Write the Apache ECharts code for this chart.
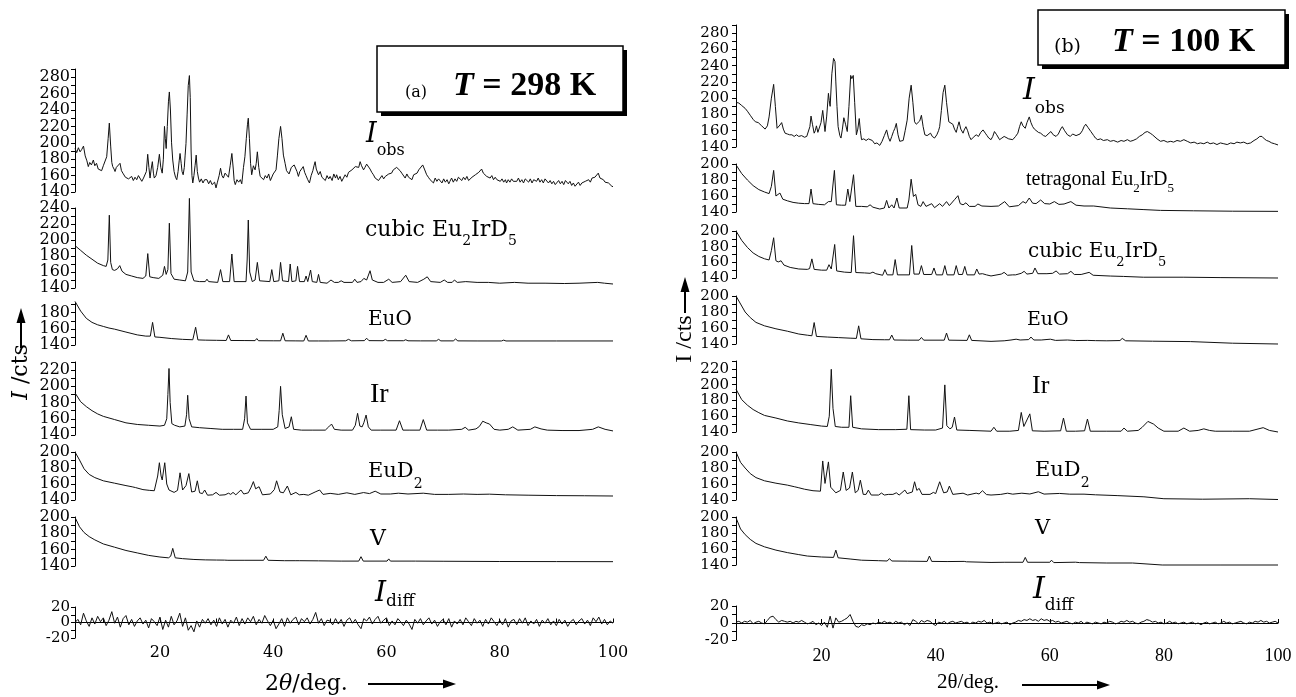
<!DOCTYPE html>
<html>
<head>
<meta charset="utf-8">
<script src="https://cdn.jsdelivr.net/npm/echarts@6/dist/echarts.min.js"></script>
<style>html,body{margin:0;background:#fff}#chart{width:1296px;height:697px}</style>
</head>
<body>
<div id="chart"></div>
<script>
// tick labels
const xTickLabels = [20, 40, 60, 80, 100];
const xMinorTicks = [10, 20, 30, 40, 50, 60, 70, 80, 90, 100];
const ticksObs = [140, 160, 180, 200, 220, 240, 260, 280];
const ticks240 = [140, 160, 180, 200, 220, 240];
const ticks220 = [140, 160, 180, 200, 220];
const ticks200 = [140, 160, 180, 200];
const ticks180 = [140, 160, 180];
const ticksDiff = [-20, 0, 20];

// (a) T = 298 K, [2theta, counts]
const aObs = [[5,193],[5.3,188],[5.6,194],[5.9,189],[6.2,192],[6.5,196],[6.8,184],[7.1,178],[7.35,171],[7.6,176],[7.9,173],[8.24,179],[8.5,172],[8.8,175],[9.1,168],[9.42,169],[9.7,166],[10,172],[10.3,171],[10.6,183],[10.85,205],[11.06,224],[11.3,196],[11.5,176],[11.66,171],[11.9,168],[12.07,165],[12.3,170],[12.6,168],[12.95,175],[13.2,166],[13.45,163],[13.66,161],[13.9,158],[14.2,160],[14.45,156],[14.7,157],[15,159],[15.3,154],[15.6,158],[15.9,155],[16.2,160],[16.5,159],[16.8,153],[17.1,157],[17.4,155],[17.6,165],[17.84,186],[18.05,170],[18.25,157],[18.45,168],[18.66,177],[18.85,163],[19,157],[19.3,160],[19.6,170],[19.9,186],[20.15,170],[20.4,163],[20.6,180],[20.8,220],[20.95,205],[21.1,193],[21.3,220],[21.5,250],[21.66,262],[21.85,240],[22.05,200],[22.26,179],[22.5,165],[22.75,158],[22.97,155],[23.2,165],[23.4,178],[23.55,187],[23.75,175],[23.9,165],[24.1,161],[24.3,170],[24.45,185],[24.6,199],[24.8,235],[25,270],[25.2,282],[25.35,255],[25.5,190],[25.65,160],[25.8,151],[26,160],[26.2,172],[26.4,185],[26.6,165],[26.8,157],[27,152],[27.3,156],[27.6,151],[27.9,155],[28.3,155],[28.6,150],[28.9,154],[29.2,149],[29.4,150],[29.65,152],[29.9,145],[30.15,152],[30.45,160],[30.7,169],[30.95,160],[31.2,157],[31.5,163],[31.8,163],[32.1,158],[32.4,172],[32.7,187],[32.95,168],[33.1,154],[33.3,149],[33.6,155],[33.9,152],[34.2,155],[34.45,150],[34.75,170],[35,183],[35.25,205],[35.45,222],[35.6,230],[35.8,205],[36,175],[36.2,161],[36.5,172],[36.8,167],[37,175],[37.2,189],[37.45,170],[37.7,159],[38,161],[38.3,155],[38.6,160],[38.9,157],[39.2,162],[39.5,154],[39.75,155],[40,162],[40.3,160],[40.5,167],[40.75,185],[41,205],[41.3,220],[41.55,205],[41.8,185],[42.1,175],[42.35,166],[42.6,168],[42.8,162],[43,161],[43.2,170],[43.45,168],[43.7,173],[43.9,175],[44.2,165],[44.45,159],[44.7,165],[45,168],[45.3,171],[45.55,164],[45.8,160],[46.1,155],[46.4,151],[46.7,160],[47,166],[47.2,172],[47.4,177],[47.6,168],[47.8,170],[48,161],[48.3,165],[48.6,158],[48.9,159],[49.2,154],[49.5,160],[49.8,156],[50.05,159],[50.4,154],[50.7,162],[51,157],[51.2,161],[51.5,155],[51.8,159],[52.1,153],[52.4,157],[52.7,161],[53,158],[53.3,164],[53.6,163],[53.9,167],[54.2,165],[54.5,171],[54.8,173],[55.1,170],[55.35,177],[55.6,172],[55.95,167],[56.2,170],[56.5,174],[56.8,175],[57.1,168],[57.4,164],[57.7,161],[58,157],[58.3,159],[58.6,154],[58.9,155],[59.2,160],[59.5,156],[59.8,159],[60.1,157],[60.4,162],[60.7,160],[60.9,163],[61.2,167],[61.5,165],[61.8,170],[62.1,171],[62.4,166],[62.7,163],[63,161],[63.3,157],[63.6,162],[63.9,158],[64.2,159],[64.5,155],[64.8,161],[65.1,160],[65.4,163],[65.7,167],[66,169],[66.4,173],[66.7,168],[67.1,161],[67.4,158],[67.7,155],[68,156],[68.3,151],[68.6,157],[68.9,153],[69.2,156],[69.5,155],[69.8,151],[70.1,156],[70.4,152],[70.7,155],[71,150],[71.2,153],[71.5,157],[71.8,152],[72.1,156],[72.4,153],[72.7,158],[73,157],[73.3,154],[73.6,158],[73.9,155],[74.2,159],[74.5,154],[74.8,155],[75.1,158],[75.4,157],[75.7,161],[76,161],[76.3,164],[76.8,168],[77.1,163],[77.4,165],[77.7,159],[78,161],[78.3,157],[78.6,160],[78.9,155],[79.2,158],[79.5,155],[79.8,157],[80.1,153],[80.4,156],[80.7,152],[81,155],[81.2,151],[81.5,155],[81.8,152],[82.1,156],[82.4,153],[82.7,155],[83,153],[83.3,157],[83.6,152],[83.9,155],[84.2,151],[84.5,156],[84.8,155],[85.1,152],[85.4,156],[85.7,151],[86,155],[86.5,153],[86.8,157],[87.1,152],[87.4,155],[87.7,151],[88,156],[88.3,155],[88.6,151],[88.9,154],[89.2,150],[89.5,153],[89.8,149],[90.1,151],[90.4,154],[90.7,150],[91,153],[91.3,149],[91.6,154],[91.8,153],[92.1,150],[92.4,153],[92.7,148],[93,151],[93.3,147],[93.6,149],[93.9,152],[94.2,148],[94.5,151],[94.8,149],[95.1,153],[95.4,151],[95.7,155],[96,152],[96.3,157],[96.5,155],[96.8,158],[97.1,156],[97.4,163],[97.7,157],[98,159],[98.3,155],[98.6,152],[98.9,154],[99.2,151],[99.5,149],[99.8,147],[100,146.5]];
const aCubic = [[5,193],[6,187],[7,181],[8,176],[9,171],[10,168],[10.5,167],[10.8,175],[11.06,231],[11.3,172],[11.6,163],[12,162],[12.5,164],[12.9,168],[13.3,161],[14,157],[15,155],[16,153],[17,152],[17.5,155],[17.85,183],[18.2,154],[18.8,153],[19.8,152],[20.5,156],[20.8,167],[21.1,157],[21.4,163],[21.66,221],[21.95,158],[22.5,151],[23.5,150],[24.5,149],[24.9,160],[25.2,252],[25.5,160],[26,149],[27,148],[28,148],[28.3,151],[28.6,148],[30.2,147],[30.7,163],[31.1,148],[32.3,148],[32.7,182.5],[33.1,148],[35.2,148],[35.4,175],[35.6,225],[35.85,160],[36.3,148],[36.8,150],[37.2,172],[37.6,149],[39.4,148],[39.75,163],[40.1,148],[41,149],[41.3,172],[41.65,149],[42.7,148],[43,170],[43.3,148],[44,149],[44.3,167],[44.65,148],[45.5,148],[45.8,155],[46.1,148],[46.4,150],[46.6,162.5],[46.9,148],[47.7,147],[48,157],[48.3,147],[49.5,146],[50.2,150],[50.8,147],[51.5,147],[52,149],[52.5,147],[54,147],[54.4,151],[54.8,147],[55.5,148],[56,152],[56.5,150],[57.1,161.6],[57.5,150],[58.5,147],[59.5,147],[60.4,151],[61,147],[62.5,148],[63.4,156],[64,148],[65.5,147],[66.6,151],[67.2,154],[67.8,148],[69.5,147],[70.2,150],[70.8,147],[71.6,147],[72,150],[72.5,147],[74,148],[76,147],[78,147],[80,146],[82.6,147],[85,146],[88,146],[91.4,145.6],[94,146],[97.3,147],[98.5,146],[100,145]];
const aEuO = [[5,194],[6,182],[7,173],[8,168],[9,165],[10,163],[11,161],[12,159.6],[14,156],[16,152.5],[17.5,151],[18.3,151],[18.7,168],[19.1,150],[20,149.5],[22,148],[24,147],[25.8,146.5],[26.3,162],[26.7,146.3],[28,146],[30,145.8],[31.7,145.6],[32.1,152.5],[32.5,145.6],[35,145.5],[36.8,145.4],[37.1,148],[37.4,145.3],[40,145.2],[41.3,145.2],[41.7,154.6],[42.1,145.2],[44,145.1],[45.4,145],[45.8,152],[46.2,145],[48,145],[50,145],[52.8,145.2],[53.3,147],[53.8,145.2],[56.1,145.4],[56.5,148.4],[56.9,145.4],[59.4,145.3],[59.8,147],[60.2,145.3],[63,145.3],[63.4,146.5],[63.8,145.2],[66,145.1],[68.8,145.1],[69.2,147],[69.6,145.1],[71.8,145.1],[72.2,147.4],[72.6,145.1],[76,145],[80.3,145],[80.7,146],[81.1,145],[90,145],[100,145]];
const aIr = [[5,192],[6,181],[7,175],[8,170],[9,166],[10,163],[12,159],[14,155],[16,153],[18,152],[20,151],[20.8,152],[21.2,160],[21.4,190],[21.6,222],[21.8,180],[22.1,154],[22.6,152],[23.5,150],[24.4,151],[24.7,165],[24.9,189],[25.15,160],[25.6,150],[27,149],[29,148],[31,147],[33,147],[34.6,147],[34.95,160],[35.2,188],[35.45,155],[36,147],[38,147],[40,147],[40.8,150],[41.05,170],[41.3,200],[41.6,165],[42.1,148],[42.8,150],[43.2,162.5],[43.6,147],[45,146],[47,146],[49.2,146],[49.8,150],[50.3,153.5],[50.8,147],[52,146],[54,146],[54.5,152],[54.9,166.7],[55.3,151],[55.7,150],[56,155],[56.4,164.6],[56.8,150],[57.3,146],[59,146],[61.7,146],[62.3,157.6],[62.9,146],[64,146],[65.9,146],[66.5,159],[67.1,146],[69,146],[71,146],[73.3,147],[73.9,149.5],[74.5,146],[75.8,147.5],[76.4,150.5],[77,157],[77.6,155],[78.2,153.5],[79,147],[80,146],[81.5,147],[82.3,150],[83.2,146],[85.4,147],[86.2,150],[87.3,147.5],[88.4,146],[91,145.5],[94,145.5],[96.4,147],[97.4,150],[98.6,147],[100,145]];
const aEuD2 = [[5,200],[5.8,190],[6.6,179],[7.5,172],[8.5,168],[10,164],[12,161],[14,158],[15.1,156.5],[15.4,158],[15.7,155.5],[17,153],[18.2,152],[19,151.6],[19.6,170],[19.9,186.6],[20.2,170],[20.4,165],[20.6,175],[20.85,186.6],[21.2,160],[21.6,152.5],[22.5,149.5],[23.1,152],[23.55,174],[24,152.5],[24.6,158],[25.1,173],[25.6,150],[26.2,151],[26.6,164],[27,149],[27.5,148],[27.9,152.5],[28.4,146],[29.3,146.5],[29.9,149.5],[30.5,146],[31.5,146.5],[32.1,148.5],[32.5,147],[32.9,149.5],[33.4,146.5],[34.3,152.5],[34.8,147.5],[35.6,149],[36.1,156],[36.5,163],[36.9,154],[37.2,155],[37.5,156.6],[38.1,146.5],[39.5,147.5],[40.2,153],[40.6,164],[41.2,150],[41.8,149],[42.5,157.5],[43.1,146.5],[44,149.5],[44.6,146.5],[45.4,147],[46.2,146],[47.4,150],[48.2,152.5],[48.8,147],[50.05,148.3],[51.5,147],[53,149],[54.4,147],[55.95,149.3],[57,148],[58,151],[59,147.5],[60.7,147.5],[62.1,148.5],[63.8,147.5],[66.5,148.5],[68.5,147],[71,147],[73.6,147.5],[76,147],[78.2,147.3],[81,146.5],[85,146],[90,145.5],[95,145.3],[100,145]];
const aV = [[5,199.6],[5.8,188],[6.6,181],[7.5,176],[8.5,172],[10,167],[12,163],[14,159],[16,156],[18,153],[20,151],[21.5,150],[21.9,152],[22.26,161.6],[22.7,150],[24,149],[26,148],[28,147.5],[30,147.3],[31.4,147.2],[31.7,149.4],[32,147],[35,147],[38.3,147],[38.7,152],[39.1,147],[42,146.5],[44,146.5],[44.3,148],[44.6,146.5],[48,146.3],[52,146],[55.1,146],[55.5,151.4],[55.9,146],[60.1,146],[60.4,148.7],[60.7,146],[64.5,146],[64.8,147.5],[65.1,146],[70,145.8],[80,145.5],[90,145.4],[100,145.3]];
const aDiff = [[5,0],[5.5,4],[6,-3],[6.5,12],[7,2],[7.5,-5],[8,6],[8.5,-2],[9,8],[9.5,1],[10,6],[10.5,-4],[11,3],[11.5,14],[12,-1],[12.5,7],[13,-6],[13.5,5],[14,9],[14.5,-3],[15,4],[15.5,-5],[16,2],[16.5,6],[17,-2],[17.5,3],[18,-7],[18.5,5],[19,1],[19.5,-4],[20,7],[20.5,-9],[21,3],[21.5,-6],[22,8],[22.5,-3],[23,2],[23.5,12],[24,-5],[24.5,6],[25,-10],[25.5,-4],[26,-12],[26.5,2],[27,-6],[27.5,4],[28,-1],[28.5,5],[29,-3],[29.5,3],[30,-5],[30.5,6],[31,-2],[31.5,4],[32,-6],[32.5,3],[33,-1],[33.5,7],[34,-4],[34.5,5],[35,-2],[35.5,6],[36,1],[36.5,8],[37,-3],[37.5,4],[38,-1],[38.5,9],[39,2],[39.5,-4],[40,3],[40.5,-8],[41,-2],[41.5,5],[42,-5],[42.5,6],[43,-1],[43.5,4],[44,7],[44.5,-3],[45,5],[45.5,1],[46,6],[46.5,-2],[47,4],[47.5,13],[48,-1],[48.5,5],[49,-4],[49.5,3],[50,2],[50.5,-3],[51,5],[51.5,-2],[52,4],[52.5,-5],[53,3],[53.5,6],[54,-1],[54.5,4],[55,-3],[55.5,-8],[56,5],[56.5,2],[57,7],[57.5,-2],[58,4],[58.5,8],[59,-1],[59.5,3],[60,6],[60.5,-4],[61,2],[61.5,-3],[62,5],[62.5,1],[63,-4],[63.5,3],[64,-2],[64.5,-9],[65,4],[65.5,-1],[66,5],[66.5,-3],[67,2],[67.5,6],[68,-2],[68.5,3],[69,-5],[69.5,1],[70,4],[70.5,-3],[71,5],[71.5,-6],[72,2],[72.5,-2],[73,4],[73.5,-3],[74,6],[74.5,1],[75,-4],[75.5,5],[76,-1],[76.5,3],[77,-5],[77.5,4],[78,-2],[78.5,6],[79,1],[79.5,-4],[80,3],[80.5,-3],[81,5],[81.5,-6],[82,2],[82.5,4],[83,-3],[83.5,5],[84,-1],[84.5,6],[85,-4],[85.5,2],[86,-2],[86.5,4],[87,-5],[87.5,3],[88,-1],[88.5,5],[89,-3],[89.5,2],[90,-4],[90.5,4],[91,-2],[91.5,3],[92,-5],[92.5,1],[93,4],[93.5,-3],[94,2],[94.5,5],[95,-2],[95.5,3],[96,-4],[96.5,6],[97,1],[97.5,7],[98,-2],[98.5,4],[99,-3],[99.5,2],[100,-1]];

// (b) T = 100 K
const bObs = [[5,195],[5.5,194],[6,191],[6.6,187.5],[7,184],[7.5,179],[8,174],[8.4,171],[8.9,170],[9.5,166],[10.1,162],[10.5,166],[10.8,177],[11.2,200],[11.6,217],[11.9,190],[12.2,163],[12.5,165],[12.7,167],[13,170],[13.3,162],[13.6,157],[14,156],[14.4,155],[14.8,155],[15.2,153],[15.6,155],[16,153],[16.5,154],[17,152],[17.4,153],[17.7,152],[17.95,165],[18.15,178],[18.4,168],[18.7,157],[18.9,160],[19.1,166],[19.35,158],[19.55,156],[19.9,170],[20.2,185],[20.4,172],[20.6,159],[20.9,178],[21.2,206],[21.35,197],[21.5,190],[21.8,230],[22.1,249],[22.35,245],[22.5,220],[22.7,190],[22.9,165],[23.2,154],[23.4,151],[23.65,162],[23.9,176],[24.2,168],[24.5,159],[24.8,190],[25.1,228],[25.3,224],[25.55,228],[25.8,195],[26.1,155],[26.35,162],[26.6,175],[26.8,160],[27,149],[27.4,150],[27.8,148],[28.2,150],[28.5,152],[28.9,148],[29.3,144],[29.7,145],[30.2,142],[30.6,147],[31,154],[31.4,161],[31.7,152],[32,147],[32.3,153],[32.6,159],[32.85,163],[33.1,169],[33.4,155],[33.7,147],[34,149],[34.3,148],[34.65,160],[35,173],[35.35,200],[35.7,216],[36,195],[36.3,171],[36.6,168],[36.9,166],[37.2,172],[37.5,179],[37.8,165],[38.1,155],[38.5,154],[38.8,155],[39.1,157],[39.4,153],[39.8,151],[40.2,155],[40.5,160],[40.7,165],[41,185],[41.3,207],[41.6,216],[41.9,195],[42.3,171],[42.6,172],[43,168],[43.3,162],[43.6,158],[43.85,165],[44.1,171],[44.4,162],[44.8,157],[45,161],[45.3,165],[45.6,160],[45.9,153],[46.2,149],[46.6,152],[47.1,155],[47.5,153],[47.9,158],[48.3,161],[48.7,157],[49,154],[49.3,151],[49.7,149],[50,153],[50.3,159],[50.7,155],[51.2,149],[51.6,151],[52,153],[52.3,153],[52.8,150],[53.1,151],[53.5,149],[54,153],[54.4,157],[54.7,165],[55,171],[55.3,166],[55.7,163],[56,170],[56.4,177],[56.7,170],[57,165],[57.3,162],[57.6,160],[58,158],[58.4,157],[58.9,154],[59.3,153],[59.7,156],[60.2,159],[60.6,155],[61.1,153],[61.5,156],[61.9,162],[62.2,165],[62.6,160],[63.1,155],[63.6,153],[64,156],[64.3,157],[64.6,154],[64.9,153],[65.3,156],[65.7,160],[66,165],[66.3,168],[66.7,164],[67.2,159],[67.7,154],[68,151],[68.4,149],[68.9,150],[69.4,148],[70.1,149],[70.6,147],[71.2,148],[71.9,146],[72.5,148],[73,147],[73.6,149],[74.1,147],[74.6,148],[75.2,150],[75.7,153],[76.2,155],[76.7,158],[77.1,159],[77.6,157],[78,155],[78.3,153],[78.8,150],[79.4,147],[80,148],[80.6,146],[81.2,147],[81.7,146],[82.3,148],[82.9,147],[83.5,149],[84.1,147],[84.7,145],[85.3,146],[85.9,144],[86.4,145],[87,144],[87.6,146],[88.1,144],[88.7,145],[89.3,143],[89.9,145],[90.5,144],[91.1,143],[91.7,145],[92.3,144],[92.8,146],[93.4,145],[94,146],[94.6,144],[95.2,145],[95.8,148],[96.3,150],[96.8,153],[97.2,153],[97.6,150],[98,148],[98.4,147],[98.9,145],[99.4,144],[100,142.5]];
const bTetra = [[5,199],[6,188],[7,180],[8,173],[9,168],[10,165],[10.8,163],[11.2,172],[11.6,192],[12,160],[12.3,157.5],[12.7,163.7],[13.2,156],[14,154],[15,152],[16,151],[17,150.5],[17.8,150.5],[18.15,168.7],[18.5,150.4],[19.5,149.5],[20.5,149],[21.2,153],[21.7,153],[22.25,192],[22.6,149],[23.5,148.5],[24.2,148.5],[24.6,168.7],[24.95,153],[25.6,186.6],[26,147],[27,147],[28,146.5],[28.5,149],[29,146],[30.2,143.7],[31,145],[31.4,154.5],[31.8,145],[32.3,149],[32.7,145],[33.2,157.5],[33.6,145],[35,145],[35.3,155],[35.7,181],[36.1,159.5],[36.5,162],[36.9,149],[37.4,147],[37.8,153],[38.3,147],[39.3,150.4],[39.8,145.4],[40.7,150.4],[41.2,147],[41.9,153],[42.4,148],[43.3,155.4],[43.9,160.4],[44.3,150.4],[44.8,149],[45.3,151.5],[45.9,147],[46.9,147],[47.4,150],[48.1,147.5],[49.7,147],[51,147.5],[52.1,153],[52.9,146.5],[54.5,148],[55.3,153],[55.8,151],[56.4,157.5],[57,151],[57.6,150.5],[58.4,155],[59.1,150.5],[60,150],[60.8,153],[61.6,149.5],[62.5,150],[63.7,153],[64.6,148.5],[66,147.5],[67.7,147.5],[70.6,145],[73.6,144],[76.5,143],[79.4,142],[85.2,141.5],[92,141],[100,140.8]];
const bCubic = [[5,200],[6,188],[7,179],[8,172],[9,167.5],[10,164.5],[10.8,163],[11.2,175],[11.6,191.4],[12,162],[12.4,160.5],[12.9,162],[13.4,156.5],[14.5,153.5],[16,151.5],[17.5,151],[17.9,152],[18.3,164.4],[18.7,151],[20,150],[20.9,150],[21.3,157],[21.7,151.5],[22,152],[22.3,182.8],[22.65,149],[24,147.5],[25.2,147],[25.6,194],[26,147],[27.5,146.5],[28.5,146],[29,147.5],[29.5,145.5],[30.7,143.5],[31.1,150.7],[31.5,144],[32.5,144],[32.9,163.5],[33.3,144],[35.4,144],[35.8,181.5],[36.2,145],[37.1,145],[37.5,155.8],[37.9,144.5],[39.3,144.5],[39.7,152.8],[40.1,144],[41.2,144],[41.6,155.8],[42,144],[43.2,144],[43.6,155.8],[44,144.5],[44.7,144.5],[45.1,154.8],[45.5,144],[46.8,144],[47.2,151.5],[47.6,145],[48.2,145.5],[48.5,146],[48.9,144],[49.7,142.6],[51.5,145],[52,147.2],[52.6,143.5],[53.5,144],[54,144],[55,146],[55.5,148.5],[56,145],[57,146],[57.4,152.8],[57.9,145.5],[59.5,145.5],[60.5,146],[61.1,149],[61.7,145],[63.1,145.5],[63.7,148.5],[64.3,144.5],[65.5,144.5],[66.9,147.2],[67.6,143.5],[70.6,142.5],[72.9,142],[76.4,141],[83.5,141],[90,140.5],[100,140]];
const bEuO = [[5,200],[5.8,190],[6.6,180],[7.5,173],[8.5,167],[10,162.7],[12,159],[14,156],[16,152.5],[17.5,151],[18.3,150.3],[18.7,166.8],[19.1,149.5],[21,148.7],[23,148],[25,147.3],[26.1,147],[26.5,162.7],[26.9,146.5],[29,145.5],[31,145.3],[31.9,145.3],[32.3,151.2],[32.7,145],[35,144.8],[37.1,144.8],[37.5,148.2],[37.9,144.8],[41.5,144.8],[41.9,153.7],[42.3,144.8],[45.5,144.5],[45.9,151.5],[46.3,144.5],[49.7,143.3],[52,144],[53.2,145],[54.1,146],[54.8,145],[56.3,145.5],[56.7,148.7],[57.2,145],[58.5,145],[60.1,146],[61,144.5],[63.1,145],[64.5,144.3],[66.6,144.5],[68,144.2],[70,144],[72.3,144.3],[72.7,147],[73.3,144],[78,143.5],[84.7,143],[92,141],[100,140]];
const bIr = [[5,194.3],[6,181],[7,174],[8,168.5],[9,164.5],[10,161],[12,157.7],[14,154],[16,151.5],[18,149.5],[20,147.5],[21,147],[21.35,160],[21.7,219.5],[22,170],[22.4,147],[23.5,146],[24.8,146],[25.1,186],[25.45,146],[27,144],[30,143],[33,143],[34.95,143.5],[35.3,186],[35.6,143],[38,142.5],[40,142.5],[41.2,145],[41.6,199.7],[41.95,148],[42.5,144],[42.9,146],[43.3,159],[43.7,142.5],[46,142],[49.7,141],[50.2,146],[50.7,141],[53,141],[54.5,142],[55,164.8],[55.45,147],[56.5,163],[56.95,141.5],[59,141],[61.9,141.5],[62.4,157.7],[62.9,141],[64.5,141],[66.1,141.5],[66.6,156.4],[67.1,141],[70,141],[72.5,141],[73,145],[73.6,141],[75.5,142],[76.2,146],[77.2,153.4],[78.2,150],[79,145],[80,141],[82.5,141],[83.5,145],[84.5,141],[86,142],[87,144],[88,142],[89,141],[92,141],[95,141],[97.4,145.5],[98.5,142],[100,140]];
const bEuD2 = [[5,200],[5.8,187],[6.6,180],[7.5,173],[8.5,168],[10,164],[12,161],[14,158.6],[15.3,156.5],[15.6,157.5],[15.9,155.5],[17,153.5],[18.5,151.6],[19.8,151],[20.2,188.8],[20.6,160.7],[21.2,187.6],[21.6,156],[22.5,149],[23.3,152],[23.8,175],[24.3,152],[24.9,155],[25.4,175],[25.9,149],[26.4,152],[26.8,164.8],[27.3,147],[27.8,147],[28.2,152.4],[28.7,146.2],[30,146.2],[30.5,148.7],[31,146.2],[31.7,147],[32,148],[32.5,147],[33.1,149],[33.6,146.2],[34.6,152.4],[35,148],[35.9,150],[36.3,162.8],[36.7,152],[37.1,154.5],[37.6,147],[39,147],[39.6,149.5],[40,148],[40.7,162.8],[41.4,149],[42,150],[42.4,157.4],[43,147],[44.8,148.5],[45.6,146.2],[47.1,148.6],[47.6,147.5],[48.2,151.6],[48.9,146.8],[49.7,146.2],[51.4,147],[52.6,148.5],[53.5,147.3],[55.1,148.5],[56.5,147.5],[58,150.3],[59,147.4],[61.7,148.2],[63.5,147.3],[66,147.3],[68,146.5],[71.8,145.5],[76.5,144],[80,141.6],[86.8,141],[95,141.6],[100,140.6]];
const bV = [[5,199],[5.8,185],[6.6,178],[7.5,172],[8.5,167],[10,162.7],[12,158.6],[14,155.5],[16,153],[17.5,151.2],[20,150],[22.1,149.5],[22.5,158.6],[22.9,149],[25,147.5],[27,146],[30,145.4],[31.5,145],[31.9,148],[32.3,145],[35,144.8],[38.5,144.5],[38.9,151.2],[39.3,144.5],[42,144.3],[45,144.5],[45.4,144],[49.7,143.2],[52,143.4],[55.3,143.4],[55.7,149.5],[56.1,143.4],[60,143.4],[60.3,146],[60.7,143],[64.5,143.5],[64.8,145.5],[65.2,143],[70,142.5],[74.5,142.5],[79.7,140],[90,140],[100,140]];
const bDiff = [[5,1],[5.5,2],[6,0],[6.5,2],[7,1],[7.5,3],[8,-1],[8.5,1],[9,2],[9.5,0],[10,-1],[10.5,3],[11,7],[11.5,8],[12,4],[12.5,1],[13,3],[13.5,2],[14,1],[14.5,2],[15,0],[15.5,2],[16,1],[16.5,3],[17,1],[17.5,-1],[18,0],[18.5,2],[19,-2],[19.5,0],[20,-3],[20.5,1],[21,-5],[21.5,8],[22,-6],[22.5,6],[23,1],[23.5,2],[24,4],[24.5,6],[25,10],[25.5,2],[26,-4],[26.5,-5],[27,-2],[27.5,-3],[28,-1],[28.5,-2],[29,0],[29.5,-1],[30,1],[30.5,0],[31,2],[31.5,0],[32,1],[32.5,-1],[33,2],[33.5,0],[34,1],[34.5,-2],[35,0],[35.5,-3],[36,4],[36.5,2],[37,-1],[37.5,3],[38,1],[38.5,3],[39,2],[39.5,-1],[40,-3],[40.5,1],[41,0],[41.5,2],[42,-1],[42.5,1],[43,2],[43.5,0],[44,1],[44.5,2],[45,0],[45.5,1],[46,-1],[46.5,1],[47,0],[47.5,2],[48,1],[48.5,3],[49,0],[49.5,1],[50,-1],[50.5,0],[51,1],[51.5,-1],[52,0],[52.5,1],[53,-2],[53.5,0],[54,1],[54.5,3],[55,2],[55.5,4],[56,3],[56.5,5],[57,3],[57.5,4],[58,2],[58.5,5],[59,3],[59.5,4],[60,2],[60.5,3],[61,1],[61.5,2],[62,0],[62.5,1],[63,2],[63.5,0],[64,-1],[64.5,1],[65,0],[65.5,2],[66,-1],[66.5,1],[67,0],[67.5,-1],[68,1],[68.5,0],[69,-1],[69.5,1],[70,0],[70.5,2],[71,1],[71.5,-1],[72,0],[72.5,2],[73,1],[73.5,3],[74,1],[74.5,2],[75,0],[75.5,-1],[76,1],[76.5,2],[77,4],[77.5,3],[78,1],[78.5,2],[79,0],[79.5,1],[80,-1],[80.5,0],[81,2],[81.5,0],[82,1],[82.5,-1],[83,0],[83.5,1],[84,-1],[84.5,0],[85,1],[85.5,-1],[86,0],[86.5,-2],[87,0],[87.5,1],[88,-1],[88.5,0],[89,1],[89.5,-1],[90,0],[90.5,2],[91,0],[91.5,1],[92,-1],[92.5,0],[93,1],[93.5,2],[94,0],[94.5,-1],[95,1],[95.5,0],[96,2],[96.5,1],[97,3],[97.5,1],[98,2],[98.5,0],[99,1],[99.5,2],[100,0]];

// layout of the stacked strips, pixels
const panelA = { left: 75, width: 538, labelSize: 16, labelMargin: 5, xFont: 'DejaVu Serif', xSize: 16 };
const panelB = { left: 736, width: 542, labelSize: 15, labelMargin: 7, xFont: 'Liberation Serif', xSize: 18 };
const rowsA = [
  { data: aObs, min: 140, max: 290, ticks: ticksObs, top: 69, height: 123 },
  { data: aCubic, min: 140, max: 240, ticks: ticks240, top: 208, height: 80 },
  { data: aEuO, min: 140, max: 192, ticks: ticks180, top: 303, height: 42 },
  { data: aIr, min: 140, max: 230, ticks: ticks220, top: 362, height: 73 },
  { data: aEuD2, min: 140, max: 200, ticks: ticks200, top: 452, height: 48 },
  { data: aV, min: 140, max: 200, ticks: ticks200, top: 517, height: 49 },
  { data: aDiff, min: -20, max: 20, ticks: ticksDiff, top: 607, height: 31, size: 15 }
];
const rowsB = [
  { data: bObs, min: 140, max: 290, ticks: ticksObs, top: 25, height: 122 },
  { data: bTetra, min: 140, max: 200, ticks: ticks200, top: 164, height: 48 },
  { data: bCubic, min: 140, max: 200, ticks: ticks200, top: 231, height: 47 },
  { data: bEuO, min: 140, max: 200, ticks: ticks200, top: 296, height: 48 },
  { data: bIr, min: 140, max: 230, ticks: ticks220, top: 361, height: 71 },
  { data: bEuD2, min: 140, max: 200, ticks: ticks200, top: 452, height: 48 },
  { data: bV, min: 140, max: 200, ticks: ticks200, top: 517, height: 48 },
  { data: bDiff, min: -20, max: 20, ticks: ticksDiff, top: 606, height: 34 }
];

const grid = [], xAxis = [], yAxis = [], series = [];
function addPanel(panel, rows) {
  rows.forEach((r, i) => {
    const idx = grid.length;
    const last = i === rows.length - 1;
    grid.push({ left: panel.left, width: panel.width, top: r.top, height: r.height });
    xAxis.push({
      type: 'value', gridIndex: idx, min: 5, max: 100, show: last,
      axisLine: { show: true, lineStyle: { color: '#000', width: 1 } },
      axisTick: { show: true, inside: true, length: 4, customValues: xMinorTicks, lineStyle: { color: '#000' } },
      axisLabel: { customValues: xTickLabels, color: '#000', fontFamily: panel.xFont, fontSize: panel.xSize, margin: 7, hideOverlap: false },
      splitLine: { show: false }
    });
    const minor = [];
    for (let v = r.min; v <= r.max; v += 10) minor.push(v);
    yAxis.push({
      type: 'value', gridIndex: idx, min: r.min, max: r.max,
      axisLine: { show: true, lineStyle: { color: '#000', width: 1 } },
      axisTick: { show: true, length: 4, customValues: minor, lineStyle: { color: '#000' } },
      axisLabel: { customValues: r.ticks, color: '#000', fontFamily: 'DejaVu Serif', fontSize: r.size || panel.labelSize,
        margin: panel.labelMargin, hideOverlap: false, lineHeight: 12 },
      splitLine: { show: false }
    });
    series.push({
      type: 'line', xAxisIndex: idx, yAxisIndex: idx, data: r.data,
      showSymbol: false, symbol: 'none', clip: false, animation: false,
      lineStyle: { color: '#111', width: 1 }
    });
  });
}
addPanel(panelA, rowsA);
addPanel(panelB, rowsB);

// text labels built from pieces so subscripts sit below the line
const ctx = document.createElement('canvas').getContext('2d');
function label(x, y, parts) {
  const out = [];
  let cx = x;
  parts.forEach(p => {
    const font = `${p.italic ? 'italic ' : ''}${p.bold ? 'bold ' : ''}${p.size}px "${p.family || 'DejaVu Serif'}"`;
    ctx.font = font;
    out.push({
      type: 'text', x: cx, y: y + (p.dy || 0), silent: true, z: 10,
      style: { text: p.t, font: font, fill: '#000', textAlign: 'left', textVerticalAlign: 'middle' }
    });
    cx += ctx.measureText(p.t).width;
  });
  return out;
}
function phase(x, y, size, sub) {
  return label(x, y, [
    { t: 'cubic Eu', size }, { t: '2', size: sub, dy: 11 * sub / 14 },
    { t: 'IrD', size }, { t: '5', size: sub, dy: 11 * sub / 14 }
  ]);
}
function arrow(x1, y1, x2, y2, head) {
  const dx = x2 - x1, dy = y2 - y1, len = Math.hypot(dx, dy);
  const ux = dx / len, uy = dy / len;
  const bx = x2 - ux * head, by = y2 - uy * head;
  return [
    { type: 'line', silent: true, shape: { x1, y1, x2: bx, y2: by }, style: { stroke: '#000', lineWidth: 2 } },
    { type: 'polygon', silent: true, shape: { points: [[x2, y2], [bx - uy * 4.5, by + ux * 4.5], [bx + uy * 4.5, by - ux * 4.5]] }, style: { fill: '#000' } }
  ];
}
function box(x, y, w, h) {
  return [
    { type: 'rect', silent: true, z: 1, shape: { x: x + 4, y: y + 4, width: w, height: h }, style: { fill: '#000' } },
    { type: 'rect', silent: true, z: 2, shape: { x, y, width: w, height: h }, style: { fill: '#fff', stroke: '#000', lineWidth: 1.5 } }
  ];
}

const graphic = [
  ...box(377, 46, 246, 66),
  ...box(1038, 10, 247, 55),
  ...label(405, 93, [{ t: '(a)', size: 16 }]),
  ...label(453, 86, [{ t: 'T', size: 34, italic: true, bold: true, family: 'Liberation Serif' }, { t: ' = 298 K', size: 34, bold: true, family: 'Liberation Serif' }]),
  ...label(1054, 47, [{ t: '(b)', size: 19 }]),
  ...label(1112, 42, [{ t: 'T', size: 34, italic: true, bold: true, family: 'Liberation Serif' }, { t: ' = 100 K', size: 34, bold: true, family: 'Liberation Serif' }]),

  // panel a labels
  ...label(366, 135, [{ t: 'I', size: 27, italic: true }, { t: 'obs', size: 16, dy: 16 }]),
  ...phase(365, 230, 22, 14),
  ...label(368, 320, [{ t: 'EuO', size: 20 }]),
  ...label(370, 395, [{ t: 'Ir', size: 28, family: 'Liberation Serif' }]),
  ...label(368, 472, [{ t: 'EuD', size: 21 }, { t: '2', size: 14, dy: 12 }]),
  ...label(370, 539, [{ t: 'V', size: 22 }]),
  ...label(375, 594, [{ t: 'I', size: 28, italic: true }, { t: 'diff', size: 17, dy: 8 }]),

  // panel b labels
  ...label(1023, 91, [{ t: 'I', size: 30, italic: true }, { t: 'obs', size: 17, dy: 18 }]),
  ...label(1026, 180, [{ t: 'tetragonal Eu', size: 20, family: 'Liberation Serif' }, { t: '2', size: 13, dy: 9, family: 'Liberation Serif' },
    { t: 'IrD', size: 20, family: 'Liberation Serif' }, { t: '5', size: 13, dy: 9, family: 'Liberation Serif' }]),
  ...phase(1028, 252, 20, 13),
  ...label(1027, 320, [{ t: 'EuO', size: 19 }]),
  ...label(1032, 386, [{ t: 'Ir', size: 26, family: 'Liberation Serif' }]),
  ...label(1035, 471, [{ t: 'EuD', size: 21 }, { t: '2', size: 14, dy: 12 }]),
  ...label(1035, 529, [{ t: 'V', size: 21 }]),
  ...label(1033, 590, [{ t: 'I', size: 30, italic: true }, { t: 'diff', size: 17, dy: 16 }]),

  // axis names
  ...label(265, 684, [{ t: '2', size: 22 }, { t: 'θ', size: 22, italic: true }, { t: '/deg.', size: 22 }]),
  ...arrow(368, 684, 456, 684, 13),
  ...label(937, 682, [{ t: '2θ/deg.', size: 21, family: 'Liberation Serif' }]),
  ...arrow(1022, 685, 1110, 685, 13),
  { type: 'text', silent: true, x: 21, y: 372, rotation: Math.PI / 2,
    style: { text: '{i|I} /cts', font: '22px "DejaVu Serif"', fill: '#000', textAlign: 'center', textVerticalAlign: 'middle',
      rich: { i: { fontStyle: 'italic', fontSize: 22, fontFamily: 'DejaVu Serif' } } } },
  ...arrow(21, 348, 21, 308, 15),
  { type: 'text', silent: true, x: 685, y: 339, rotation: Math.PI / 2,
    style: { text: 'I /cts', font: '24px "Liberation Serif"', fill: '#000', textAlign: 'center', textVerticalAlign: 'middle' } },
  ...arrow(685, 313, 685, 277, 15)
];

const chart = echarts.init(document.getElementById('chart'));
chart.setOption({
  animation: false,
  backgroundColor: '#fff',
  grid, xAxis, yAxis, series, graphic
});
</script>
</body>
</html>
